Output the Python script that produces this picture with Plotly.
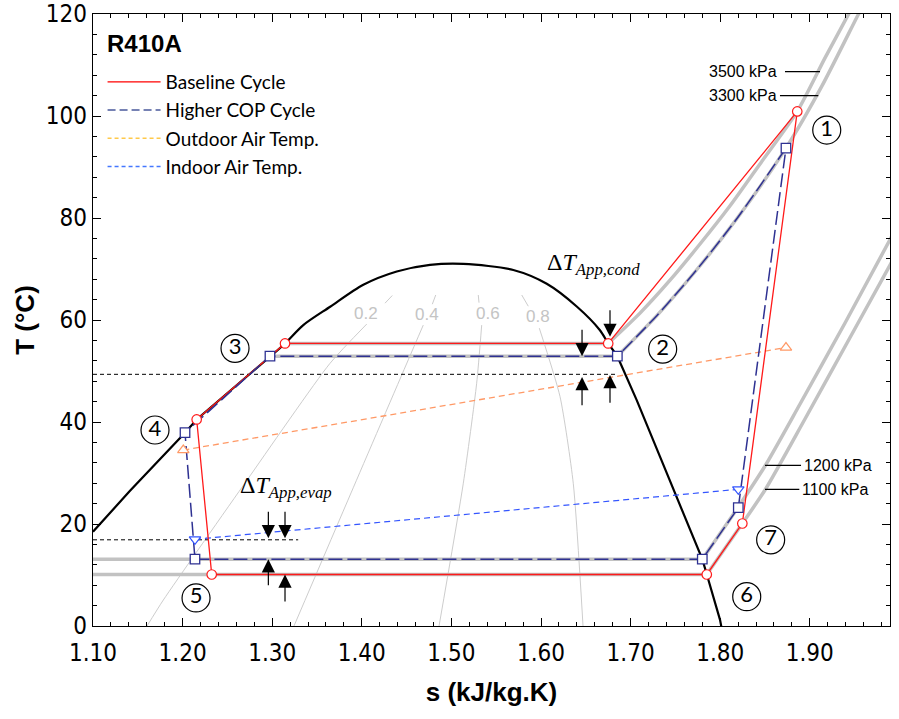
import plotly.graph_objects as go

# ---------------- data (s in kJ/kg.K, T in degC) ----------------
# saturation dome: left branch, top, right branch
dome_left_s = [1.100, 1.1413, 1.2027, 1.2157, 1.2975]
dome_left_T = [18.5, 26.5, 37.9, 40.5, 52.8]
dome_top_s = [1.2975, 1.3143, 1.3347, 1.3647, 1.4017, 1.4390, 1.4761, 1.5133, 1.5691,
              1.6064, 1.6402, 1.6658, 1.6751, 1.6852]
dome_top_T = [52.8, 55.4, 59.0, 62.6, 66.9, 69.5, 70.8, 71.0, 69.8,
              67.1, 62.6, 58.0, 55.4, 52.9]
dome_right_s = [1.6852, 1.7068, 1.7328, 1.7640, 1.7800, 1.7849, 1.7998, 1.8042]
dome_right_T = [52.9, 44.3, 33.2, 20.1, 13.1, 10.2, 1.2, -2.8]

# constant-quality lines (gap left for the labels)
q02_s = [1.434, 1.4259, None, 1.4055, 1.3645, 1.2719, 1.1785, 1.1603]
q02_T = [64.8, 63.3, None, 59.2, 51.5, 28.6, 5.1, 0.0]
q04_s = [1.4825, 1.4787, None, 1.4686, 1.4519, 1.388, 1.3243]
q04_T = [64.9, 63.1, None, 59.0, 52.2, 26.1, 0.0]
q06_s = [1.530, 1.5308, None, 1.5338, 1.5282, 1.5133, 1.4862]
q06_T = [64.9, 63.4, None, 59.0, 47.6, 28.0, 0.0]
q08_s = [1.5785, 1.5858, None, 1.5981, 1.6212, 1.636, 1.6469]
q08_T = [64.9, 62.7, None, 58.4, 45.0, 28.0, 0.0]
quality_labels = ["0.2", "0.4", "0.6", "0.8"]
quality_label_s = [1.4052, 1.4724, 1.5412, 1.597]
quality_label_T = [61.3, 61.0, 61.3, 60.6]

# isobars (first two points: two-phase horizontal, rest: superheated vapour)
p3500_s = [1.3143, 1.675, 1.7105, 1.744, 1.777, 1.811, 1.844, 1.886, 1.917, 1.947]
p3500_T = [55.4, 55.4, 61.35, 67.8, 74.8, 82.4, 90.5, 100.9, 111.4, 121.2]
p3300_s = [1.2975, 1.6852, 1.7295, 1.774, 1.8187, 1.8734, 1.9136, 1.9538, 1.9616]
p3300_T = [52.9, 52.9, 60.9, 69.9, 79.9, 93.7, 105.9, 119.8, 122.4]
p1200_s = [1.05, 1.7800, 1.8198, 1.8500, 1.8891, 1.9393, 1.9917]
p1200_T = [13.1, 13.1, 23.24, 31.37, 43.53, 59.41, 76.47]
p1100_s = [1.05, 1.7849, 1.8247, 1.8500, 1.8946, 1.9446, 1.9951]
p1100_T = [10.1, 10.1, 20.1, 26.67, 40.59, 56.47, 72.55]
isobar_labels = ["3500 kPa", "3300 kPa", "1200 kPa", "1100 kPa"]
isobar_label_s = [1.866, 1.866, 1.891, 1.889]
isobar_label_T = [108.7, 104.0, 31.5, 26.8]
isobar_leader_s0 = [1.8723, 1.8667, 1.8500, 1.8500]
isobar_leader_s1 = [1.9114, 1.9095, 1.8902, 1.8883]

# cycles: state points 1..7
base_s = [1.886, 1.675, 1.3143, 1.2157, 1.2325, 1.785, 1.8247]
base_T = [100.9, 55.4, 55.4, 40.5, 10.1, 10.1, 20.1]
hcop_s = [1.8734, 1.6852, 1.2975, 1.2027, 1.2138, 1.7800, 1.8202]
hcop_T = [93.7, 52.9, 52.9, 37.9, 13.1, 13.1, 23.2]

# air temperature glide
outdoor_s = [1.2008, 1.8734]
outdoor_T = [34.5, 54.6]
indoor_s = [1.2138, 1.8202]
indoor_T = [17.0, 26.8]

# reference dashed lines
cond_ref_s = [1.10, 1.6855]
cond_ref_T = [49.35, 49.35]
evap_ref_s = [1.10, 1.329]
evap_ref_T = [16.9, 16.9]

# approach-temperature arrows (s, tail T, tip T)
arrow_s = [1.677, 1.6458, 1.6458, 1.677, 1.2957, 1.3143, 1.2957, 1.3143]
arrow_tail_T = [62.2, 58.4, 43.0, 43.5, 22.7, 22.7, 7.7, 4.5]
arrow_tip_T = [56.7, 52.9, 48.8, 49.2, 17.2, 17.2, 13.1, 10.1]

# state-point numbers
circ_labels = ["1", "2", "3", "4", "5", "6", "7"]
circ_s = [1.9189, 1.7358, 1.2585, 1.1692, 1.215, 1.8296, 1.8563]
circ_T = [97.25, 54.3, 54.45, 38.43, 5.5, 5.75, 16.9]

# ---------------- styles ----------------
RED = "#FF1A1A"
NAVY = "#2E3192"
ORANGE = "#FF9966"
BLUE = "#3355FF"
ISO = "#C2C2C2"
QGRAY = "#CDCDCD"
TICKFONT = "Liberation Sans Narrow, Arial Narrow, DejaVu Sans Condensed, Liberation Sans, Arial"

fig = go.Figure()

def line(xs, ys, color, width, dash=None, shape="linear", smoothing=0.8):
    fig.add_trace(go.Scatter(x=xs, y=ys, mode="lines",
                             line=dict(color=color, width=width, dash=dash, shape=shape,
                                       smoothing=smoothing if shape == "spline" else None),
                             hoverinfo="skip", showlegend=False, connectgaps=False))

for qs, qt in [(q02_s, q02_T), (q04_s, q04_T), (q06_s, q06_T), (q08_s, q08_T)]:
    line(qs, qt, QGRAY, 1, shape="spline", smoothing=0.6)

for ps, pt in [(p3500_s, p3500_T), (p3300_s, p3300_T), (p1200_s, p1200_T), (p1100_s, p1100_T)]:
    line(ps[:2], pt[:2], ISO, 3.5)
    line(ps[1:], pt[1:], ISO, 3.5, shape="spline", smoothing=0.7)

line(dome_left_s, dome_left_T, "black", 2.2)
line(dome_top_s, dome_top_T, "black", 2.2, shape="spline", smoothing=0.8)
line(dome_right_s, dome_right_T, "black", 2.2)

line(cond_ref_s, cond_ref_T, "black", 1, "4px,3px")
line(evap_ref_s, evap_ref_T, "black", 1, "4px,3px")

line(outdoor_s, outdoor_T, ORANGE, 1.3, "6px,4px")
line(indoor_s, indoor_T, BLUE, 1.2, "6px,4px")

# baseline cycle path: 7 -> 1 -> 2 -> ... -> 7
base_path_s = [base_s[6]] + base_s
base_path_T = [base_T[6]] + base_T
line(base_path_s, base_path_T, RED, 1.3)

# higher-COP cycle: 1 -> 2 along the 3300 kPa isobar, then 2 -> 3 -> ... -> 7 -> 1
line(p3300_s[5:0:-1], p3300_T[5:0:-1], NAVY, 1.5, "14px,5px", shape="spline", smoothing=0.7)
hcop_path_s = hcop_s[1:] + [hcop_s[0]]
hcop_path_T = hcop_T[1:] + [hcop_T[0]]
line(hcop_path_s, hcop_path_T, NAVY, 1.5, "14px,5px")

# markers
fig.add_trace(go.Scatter(x=outdoor_s, y=outdoor_T, mode="markers", showlegend=False, hoverinfo="skip",
                         marker=dict(symbol="triangle-up", size=10, color="white",
                                     line=dict(color=ORANGE, width=1.2))))
fig.add_trace(go.Scatter(x=indoor_s, y=indoor_T, mode="markers", showlegend=False, hoverinfo="skip",
                         marker=dict(symbol="triangle-down", size=10, color="white",
                                     line=dict(color=BLUE, width=1.2))))
fig.add_trace(go.Scatter(x=base_s, y=base_T, mode="markers", showlegend=False, hoverinfo="skip",
                         marker=dict(symbol="circle", size=9.5, color="white",
                                     line=dict(color=RED, width=1.2))))
fig.add_trace(go.Scatter(x=hcop_s, y=hcop_T, mode="markers", showlegend=False, hoverinfo="skip",
                         marker=dict(symbol="square", size=9.5, color="white",
                                     line=dict(color=NAVY, width=1.3))))

# numbered state circles
fig.add_trace(go.Scatter(x=circ_s, y=circ_T, mode="markers+text", text=circ_labels,
                         textposition="middle center", showlegend=False, hoverinfo="skip",
                         textfont=dict(family="Lato, Open Sans", size=22, color="black"),
                         marker=dict(symbol="circle-open", size=28,
                                     line=dict(color="black", width=1.2), color="black")))

# legend-only entries
legend_items = [("Baseline Cycle", "#FF0000", None, 1.3),
                ("Higher COP Cycle", "#4A5A9C", "8px,4px", 1.5),
                ("Outdoor Air Temp.", "#FFC94A", "4px,3px", 1.5),
                ("Indoor Air Temp.", "#4477FF", "4px,3px", 1.5)]
for i, (nm, col, dsh, w) in enumerate(legend_items):
    fig.add_trace(go.Scatter(x=[None], y=[None], mode="lines", name=nm, legendgroup=f"g{i}",
                             line=dict(color=col, width=w, dash=dsh)))

annotations = []
# arrows
for s, t0, t1 in zip(arrow_s, arrow_tail_T, arrow_tip_T):
    annotations.append(dict(x=s, y=t1, ax=s, ay=t0, xref="x", yref="y", axref="x", ayref="y",
                            text="", showarrow=True, arrowhead=2, arrowsize=2.2,
                            arrowwidth=1.2, arrowcolor="black", standoff=0))
# quality labels
for lab, s, t in zip(quality_labels, quality_label_s, quality_label_T):
    annotations.append(dict(x=s, y=t, xref="x", yref="y", text=lab, showarrow=False,
                            font=dict(family="Liberation Sans, Arial", size=17, color="#C4C4C4")))
# isobar labels
for lab, s, t, i in zip(isobar_labels, isobar_label_s, isobar_label_T, range(4)):
    annotations.append(dict(x=s, y=t, xref="x", yref="y", text=lab, showarrow=False,
                            xanchor="right" if i < 2 else "left", yanchor="middle",
                            font=dict(family="Liberation Sans, Arial", size=16, color="black")))
# Delta T labels
annotations.append(dict(x=1.6045, y=71.0, xref="x", yref="y", showarrow=False, xanchor="left",
                        yanchor="middle", text="Δ<i>T</i><sub><i>App,cond</i></sub>",
                        font=dict(family="Liberation Serif, Times New Roman", size=24, color="black")))
annotations.append(dict(x=1.262, y=27.2, xref="x", yref="y", showarrow=False, xanchor="left",
                        yanchor="middle", text="Δ<i>T</i><sub><i>App,evap</i></sub>",
                        font=dict(family="Liberation Serif, Times New Roman", size=24, color="black")))
# refrigerant name
annotations.append(dict(x=0.015, y=0.952, xref="paper", yref="paper", showarrow=False,
                        xanchor="left", yanchor="middle", text="<b>R410A</b>",
                        font=dict(family="Liberation Sans, Arial", size=24, color="black")))

shapes = []
for s0, s1, t in zip(isobar_leader_s0, isobar_leader_s1, isobar_label_T):
    shapes.append(dict(type="line", xref="x", yref="y", x0=s0, x1=s1, y0=t, y1=t,
                       line=dict(color="black", width=1.2)))

axis_common = dict(showgrid=False, zeroline=False, showline=True, linecolor="black", linewidth=1.4,
                   mirror="allticks", ticks="inside", ticklen=8, tickwidth=1, tickcolor="black",
                   automargin=False)

fig.update_layout(
    width=899, height=719,
    margin=dict(l=93, r=9, t=14, b=93),
    paper_bgcolor="white", plot_bgcolor="white",
    annotations=annotations, shapes=shapes,
    legend=dict(x=0.012, y=0.92, xanchor="left", yanchor="top", bgcolor="rgba(0,0,0,0)",
                font=dict(family="Lato, Open Sans", size=19, color="black"),
                itemwidth=53, tracegroupgap=0.5, borderwidth=0),
    xaxis=dict(range=[1.10, 1.9895], tick0=1.1, dtick=0.1, tickformat=".2f",
               minor=dict(dtick=0.02, ticks="inside", ticklen=4, tickcolor="black"),
               tickfont=dict(family=TICKFONT, size=24, color="black"), ticklabelstandoff=5,
               title=dict(text="<b>s (kJ/kg.K)</b>", standoff=16,
                          font=dict(family="Liberation Sans, Arial", size=26, color="black")),
               **axis_common),
    yaxis=dict(range=[0, 120], tick0=0, dtick=20,
               minor=dict(dtick=4, ticks="inside", ticklen=4, tickcolor="black"),
               tickfont=dict(family=TICKFONT, size=24, color="black"),
               title=dict(text="<b>T (°C)</b>", standoff=3,
                          font=dict(family="Liberation Sans, Arial", size=26, color="black")),
               **axis_common),
)

fig.write_html("out.html")
